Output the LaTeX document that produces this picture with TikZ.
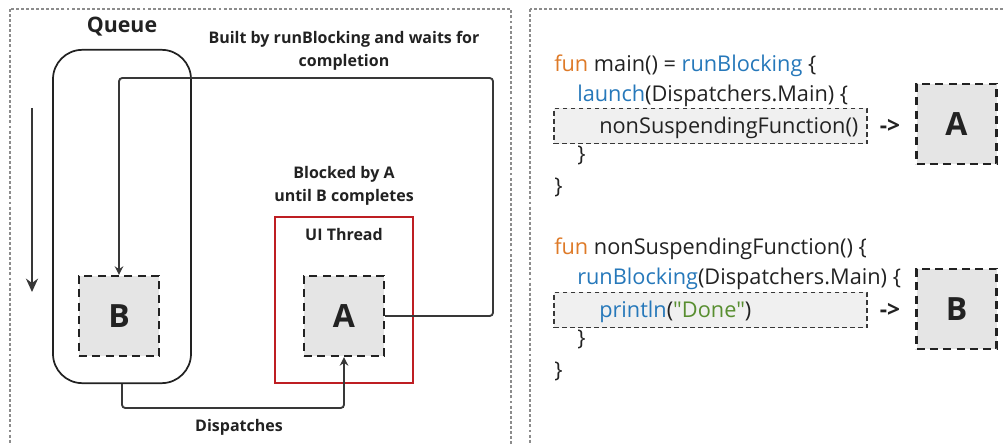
\documentclass[tikz,border=0pt]{standalone}
\usepackage{fontspec}
\setmainfont{Open Sans}
\newfontfamily\codefont{Open Sans}[Ligatures=TeXOff]
\usetikzlibrary{positioning,arrows.meta}
\definecolor{kwfun}{RGB}{222,122,40}
\definecolor{kwcall}{RGB}{38,120,186}
\definecolor{kwstr}{RGB}{88,142,48}
\definecolor{threadred}{RGB}{190,30,35}
\definecolor{ink}{RGB}{34,34,34}

\begin{document}
\begin{tikzpicture}[x=0.75pt,y=-0.75pt]
\tikzstyle{frame}=[draw=black!45, line width=0.8pt, dash pattern=on 2.2pt off 1.6pt]
\tikzstyle{task}=[rectangle, draw=ink, fill=black!10, line width=1.6pt, dash pattern=on 6pt off 4pt, minimum size=60pt, inner sep=0pt, text=ink, font=\bfseries\fontsize{24}{28}\selectfont]
\tikzstyle{queuebox}=[rectangle, rounded corners=22pt, draw=ink, line width=1.3pt, minimum width=103.5pt, minimum height=250pt]
\tikzstyle{thread}=[rectangle, draw=threadred, line width=1.4pt, minimum width=103.5pt, minimum height=124.5pt]
\tikzstyle{lbl}=[align=center, text=ink, font=\bfseries\fontsize{12}{17}\selectfont]
\tikzstyle{connect}=[-{Stealth[length=6.5pt,width=6.5pt]}, draw=ink!90, line width=1.4pt, rounded corners=2.5pt]
\tikzstyle{code}=[anchor=base west, inner sep=0pt, text=ink, font=\codefont\fontsize{16.3}{19}\selectfont]
\tikzstyle{codebox}=[rectangle, draw=ink!90, fill=black!6, line width=0.9pt, dash pattern=on 3.5pt off 2.5pt, minimum width=234.75pt, minimum height=26.5pt]
\tikzstyle{goes}=[inner sep=0pt, text=ink, font=\bfseries\fontsize{17}{19}\selectfont]
  \useasboundingbox (0,0) rectangle (1003,445);
  % panels
  \draw[frame] (10,9) rectangle (511,470);
  \draw[frame] (530,9) rectangle (1020,470);
  % queue
  \node[queuebox] (queue) at (122,216.5) {};
  \node[lbl, font=\bfseries\fontsize{16}{19}\selectfont] (queuelbl) at (122,27) {Queue};
  \coordinate (qtop) at (32,108);
  \coordinate (qend) at (32,292);
  \draw[-{Stealth[length=10pt,width=9pt]}, draw=ink!90, line width=2.2pt] (qtop) -- (qend);
  % tasks
  \node[task] (b) at (119,316) {B};
  \node[thread] (ui) at (344,300) {};
  \node[lbl] (uilbl) at (344,235) {UI Thread};
  \node[task] (a) at (344,316) {A};
  % labels
  \node[lbl] (built) at (344,51) {Built by runBlocking and waits for\\completion};
  \node[lbl] (blocked) at (344,186) {Blocked by A\\until B completes};
  \node[lbl] (disp) at (239,427) {Dispatches};
  % connectors
  \coordinate (turn) at (493,78);
  \draw[connect] (a.east) -| (turn) -| (b.north);
  \draw[connect] (queue.south) -- ++(0,24) -| (a.south);
  % code
  \node[codebox] (call1) at (710.5,126) {};
  \node[codebox] (call2) at (710.5,310) {};
  \node[code] (l1) at (554,72) {\textcolor{kwfun}{fun} main() = \textcolor{kwcall}{runBlocking} \{};
  \node[code] (l2) at (577,102) {\textcolor{kwcall}{launch}(Dispatchers.Main) \{};
  \node[code] (l3) at (599,134) {nonSuspendingFunction()};
  \node[code] (l4) at (577,162) {\}};
  \node[code] (l5) at (554,194) {\}};
  \node[code] (l6) at (554,255) {\textcolor{kwfun}{fun} nonSuspendingFunction() \{};
  \node[code] (l7) at (577,285) {\textcolor{kwcall}{runBlocking}(Dispatchers.Main) \{};
  \node[code] (l8) at (599,317) {\textcolor{kwcall}{println}(\textcolor{kwstr}{"Done"})};
  \node[code] (l9) at (577,345) {\}};
  \node[code] (l10) at (554,377) {\}};
  \node[goes] (go1) at (890,126) {->};
  \node[goes] (go2) at (890,310) {->};
  \node[task] (ra) at (956.5,124) {A};
  \node[task] (rb) at (956.5,309) {B};
\end{tikzpicture}
\end{document}
